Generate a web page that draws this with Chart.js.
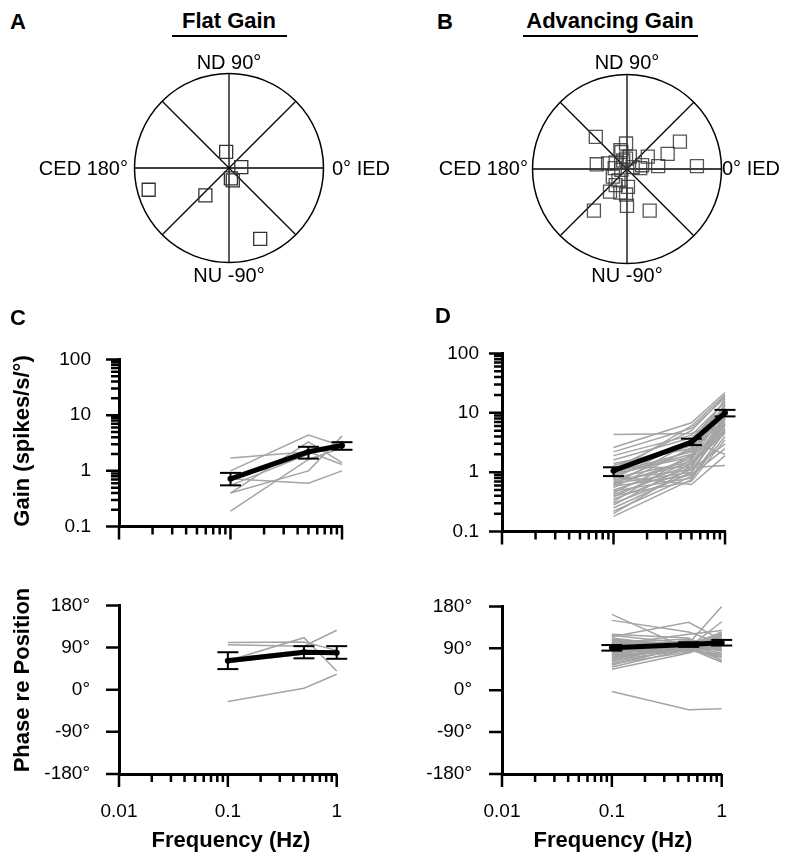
<!DOCTYPE html>
<html>
<head>
<meta charset="utf-8">
<script src="https://cdn.jsdelivr.net/npm/chart.js@4.4.1/dist/chart.umd.min.js"></script>
<style>
  html, body { margin: 0; padding: 0; background: #fff; }
  #fig { position: relative; width: 800px; height: 863px; overflow: hidden;
         font-family: 'Liberation Sans', Arial, sans-serif; color: #000; }
  #fig canvas { position: absolute; }
  .t { position: absolute; line-height: 1; white-space: nowrap; transform: translate(-50%, -50%); }
  .r { transform: translate(-100%, -50%); }
  .l { transform: translate(0, -50%); }
  .b { font-weight: bold; font-size: 22px; }
  .p { font-size: 20px; }
  .rot { transform: translate(-50%, -50%) rotate(-90deg); }
  .ul { position: absolute; height: 2px; background: #000; }
</style>
</head>
<body>
<div id="fig">
  <canvas id="polarA" width="210" height="210" style="left:124px;top:63px"></canvas>
  <canvas id="polarB" width="210" height="210" style="left:522px;top:64px"></canvas>
  <canvas id="gainC" width="360" height="230" style="left:0px;top:328px"></canvas>
  <canvas id="phaseC" width="360" height="290" style="left:0px;top:573px"></canvas>
  <canvas id="gainD" width="345" height="231" style="left:400px;top:327px"></canvas>
  <canvas id="phaseD" width="345" height="290" style="left:400px;top:573px"></canvas>

  <div class="t b" style="left:18px;top:22px">A</div>
  <div class="t b" style="left:445px;top:22px">B</div>
  <div class="t b" style="left:18px;top:318px">C</div>
  <div class="t b" style="left:443px;top:316px">D</div>

  <div class="t b" style="left:229px;top:21px">Flat Gain</div>
  <div class="ul" style="left:172px;top:35px;width:115px"></div>
  <div class="t b" style="left:610px;top:21px">Advancing Gain</div>
  <div class="ul" style="left:523px;top:35px;width:175px"></div>

  <div class="t p" style="left:229px;top:62px">ND 90°</div>
  <div class="t p" style="left:229px;top:275px">NU -90°</div>
  <div class="t p r" style="left:128px;top:168px">CED 180°</div>
  <div class="t p l" style="left:332px;top:168px">0° IED</div>

  <div class="t p" style="left:627px;top:62px">ND 90°</div>
  <div class="t p" style="left:627px;top:275px">NU -90°</div>
  <div class="t p r" style="left:528px;top:168px">CED 180°</div>
  <div class="t p l" style="left:722px;top:168px">0° IED</div>

  <div class="t b rot" style="left:22px;top:441px">Gain (spikes/s/°)</div>
  <div class="t b rot" style="left:22px;top:680px">Phase re Position</div>
  <div class="t b" style="left:231px;top:840px">Frequency (Hz)</div>
  <div class="t b" style="left:613px;top:840px">Frequency (Hz)</div>
</div>

<script>
// stimulus frequencies (Hz)
const FREQS = [0.1, 0.5, 1];

// A / B: response vectors, in units of the circle radius
const FLAT_X = [-0.03, 0.13, 0.04, 0.02, -0.85, -0.25, 0.33];
const FLAT_Y = [0.17, 0.01, -0.13, -0.11, -0.23, -0.29, -0.75];
const ADV_X = [-0.33, 0.56, 0.43, 0.74, 0.22, 0.33, 0.16, -0.32, -0.20, -0.01,
               -0.06, -0.04, -0.12, -0.01, -0.09, -0.12, -0.18, 0.01, -0.01, 0.0,
               -0.35, 0.24, -0.07, 0.06, -0.15, -0.06, 0.03, -0.07, 0.14, -0.13];
const ADV_Y = [0.34, 0.29, 0.16, 0.03, 0.13, 0.03, 0.04, 0.05, 0.06, 0.27,
               0.18, 0.09, 0.07, 0.11, -0.12, -0.17, -0.24, -0.19, -0.27, -0.39,
               -0.44, -0.44, -0.25, 0.02, -0.08, -0.01, 0.13, 0.20, 0.01, 0.01];
const SPOKE_ANGLES = [0, 45, 90, 135];

// C: flat gain cells, gain at 0.1 / 0.5 / 1 Hz
const FLAT_GAIN_CELLS = [
  [1.7, 2.2, 1.3],
  [1.0, 4.4, 2.8],
  [0.72, 0.6, 1.0],
  [0.4, 1.0, 4.2],
  [0.19, 1.6, 2.6],
  [0.4, 3.3, 1.4],
  [0.55, 2.0, 3.4]
];
const FLAT_GAIN_MEAN = [0.72, 2.2, 2.85];
const FLAT_GAIN_LO = [0.55, 1.66, 2.39];
const FLAT_GAIN_HI = [0.92, 2.7, 3.27];

const FLAT_PHASE_CELLS = [
  [101, 102, 84],
  [96, 93, 127],
  [-25, 3, 33],
  [62, 111, 40],
  [64, 80, 80],
  [58, 76, 76],
  [66, 84, 78]
];
const FLAT_PHASE_MEAN = [62, 80, 79];
const FLAT_PHASE_LO = [44, 67, 66];
const FLAT_PHASE_HI = [80, 93, 93];

// D: advancing gain cells
const ADV_GAIN_CELLS = [
  [4.3, 4.5, 7.5], [2.6, 6.8, 22], [2.2, 5.5, 18], [1.9, 4.2, 15], [1.6, 3.8, 12],
  [1.4, 2.5, 9], [1.3, 3.0, 13], [1.2, 1.2, 1.3], [1.1, 2.8, 10], [1.0, 2.2, 8],
  [1.0, 6.0, 20], [0.95, 1.8, 6], [0.9, 2.0, 11], [0.85, 0.62, 1.9], [0.8, 1.5, 5],
  [0.78, 3.5, 16], [0.75, 1.1, 3.0], [0.7, 2.4, 9.5], [0.68, 1.4, 4.5], [0.65, 1.0, 7],
  [0.6, 1.7, 14], [0.58, 0.9, 2.5], [0.55, 2.6, 17], [0.5, 1.3, 6.5], [0.48, 0.8, 4],
  [0.45, 1.9, 12], [0.42, 1.2, 8.5], [0.4, 0.7, 3.5], [0.38, 1.6, 10.5], [0.35, 1.1, 5.5],
  [0.32, 2.0, 11.5], [0.3, 0.95, 7.8], [0.28, 1.4, 9], [0.25, 1.0, 6.2], [0.22, 0.85, 4.8],
  [0.2, 1.2, 8], [0.18, 0.75, 5.2], [1.15, 5.0, 19], [0.88, 2.3, 13.5], [0.62, 3.2, 2.0]
];
const ADV_GAIN_MEAN = [1.06, 3.2, 10];
const ADV_GAIN_LO = [0.86, 2.86, 8.7];
const ADV_GAIN_HI = [1.21, 3.66, 11.2];

const ADV_PHASE_CELLS = [
  [163, 88, 118], [150, 125, 100], [-3, -42, -40], [118, 100, 180], [115, 146, 108],
  [112, 92, 147], [110, 95, 125], [108, 92, 120], [106, 100, 110], [104, 85, 115],
  [102, 110, 90], [100, 95, 105], [98, 102, 85], [96, 90, 100], [95, 105, 95],
  [93, 98, 112], [91, 88, 70], [90, 100, 95], [88, 95, 118], [87, 85, 90],
  [85, 108, 100], [83, 92, 80], [82, 100, 122], [80, 90, 102], [78, 96, 88],
  [76, 85, 75], [75, 104, 108], [73, 92, 65], [71, 88, 98], [69, 100, 92],
  [67, 94, 110], [65, 86, 78], [63, 98, 86], [60, 90, 60], [57, 82, 95],
  [54, 95, 84], [50, 88, 72], [45, 80, 105], [120, 112, 62], [98, 120, 128]
];
const ADV_PHASE_MEAN = [91, 98, 102];
const ADV_PHASE_LO = [85, 93, 96];
const ADV_PHASE_HI = [97, 103, 108];

// axis ticks
const FREQ_TICKS = [0.01, 0.02, 0.03, 0.04, 0.05, 0.06, 0.07, 0.08, 0.09,
                    0.1, 0.2, 0.3, 0.4, 0.5, 0.6, 0.7, 0.8, 0.9, 1];
const FREQ_MAJOR = [0.01, 0.1, 1];
const FREQ_LABELS = ['0.01', '0.1', '1'];
const GAIN_TICKS = [0.1, 0.2, 0.3, 0.4, 0.5, 0.6, 0.7, 0.8, 0.9,
                    1, 2, 3, 4, 5, 6, 7, 8, 9,
                    10, 20, 30, 40, 50, 60, 70, 80, 90, 100];
const GAIN_MAJOR = [0.1, 1, 10, 100];
const GAIN_LABELS = ['0.1', '1', '10', '100'];
const PHASE_TICKS = [-180, -90, 0, 90, 180];
const PHASE_LABELS = ['-180°', '-90°', '0°', '90°', '180°'];

const MEAN_COLOR = '#000';
const CELL_COLOR = '#a4a4a4';

Chart.defaults.font.family = "'Liberation Sans', Arial, sans-serif";
Chart.defaults.color = '#000';

function findIdx(list, v) {
  return list.findIndex(m => Math.abs(m - v) <= Math.abs(m) * 1e-6 + 1e-9);
}

// circle + spokes for the polar panels
const polarGrid = {
  id: 'polarGrid',
  beforeDatasetsDraw(chart) {
    const { ctx, scales: { x, y } } = chart;
    const cx = x.getPixelForValue(0), cy = y.getPixelForValue(0);
    const r = x.getPixelForValue(1) - cx;
    ctx.save();
    ctx.strokeStyle = '#000';
    ctx.lineWidth = 1.5;
    ctx.beginPath();
    ctx.arc(cx, cy, r, 0, Math.PI * 2);
    ctx.stroke();
    ctx.lineWidth = 1.3;
    SPOKE_ANGLES.forEach(a => {
      const rad = a * Math.PI / 180;
      ctx.beginPath();
      ctx.moveTo(cx - Math.cos(rad) * r, cy + Math.sin(rad) * r);
      ctx.lineTo(cx + Math.cos(rad) * r, cy - Math.sin(rad) * r);
      ctx.stroke();
    });
    ctx.restore();
  }
};

// outward tick marks, long ones on labelled ticks
const tickMarks = {
  id: 'tickMarks',
  afterDraw(chart, args, o) {
    const { ctx, scales: { x, y } } = chart;
    ctx.save();
    ctx.strokeStyle = '#000';
    ctx.lineWidth = 2.5;
    ctx.beginPath();
    x.ticks.forEach(t => {
      const px = x.getPixelForValue(t.value);
      const len = findIdx(o.xMajor, t.value) >= 0 ? 13 : 8;
      ctx.moveTo(px, x.top);
      ctx.lineTo(px, x.top + len);
    });
    y.ticks.forEach(t => {
      const py = y.getPixelForValue(t.value);
      const len = findIdx(o.yMajor, t.value) >= 0 ? 13 : 8;
      ctx.moveTo(y.right, py);
      ctx.lineTo(y.right - len, py);
    });
    ctx.stroke();
    ctx.restore();
  }
};

function polarChart(id, xs, ys, color) {
  new Chart(document.getElementById(id), {
    type: 'scatter',
    data: {
      datasets: [{
        data: xs.map((v, i) => ({ x: v, y: ys[i] })),
        pointStyle: 'rect',
        pointRadius: 9.2,
        pointBackgroundColor: 'rgba(0,0,0,0)',
        pointBorderColor: color,
        pointBorderWidth: 1.3,
        clip: false
      }]
    },
    options: {
      responsive: false,
      animation: false,
      devicePixelRatio: 1,
      layout: { padding: 10 },
      plugins: { legend: { display: false }, tooltip: { enabled: false } },
      scales: {
        x: { type: 'linear', min: -1, max: 1, display: false },
        y: { type: 'linear', min: -1, max: 1, display: false }
      }
    },
    plugins: [polarGrid]
  });
}

function freqChart(id, c) {
  const datasets = [];
  datasets.push({
    data: FREQS.map((f, i) => ({ x: f, y: c.mean[i] })),
    borderColor: MEAN_COLOR,
    borderWidth: 5,
    pointRadius: 3,
    pointBackgroundColor: MEAN_COLOR,
    pointBorderWidth: 0,
    clip: false
  });
  const bars = [];
  FREQS.forEach((f, i) => {
    bars.push({ x: f, y: c.lo[i] }, { x: f, y: c.hi[i] }, { x: f, y: null });
  });
  datasets.push({
    data: bars,
    borderColor: MEAN_COLOR,
    borderWidth: 2,
    pointStyle: 'line',
    pointRadius: 10.5,
    pointBorderWidth: 2,
    pointBorderColor: MEAN_COLOR,
    spanGaps: false,
    clip: false
  });
  c.cells.forEach(cell => datasets.push({
    data: FREQS.map((f, i) => ({ x: f, y: cell[i] })),
    borderColor: CELL_COLOR,
    borderWidth: 1.5,
    pointRadius: 0,
    clip: false
  }));

  const yLog = c.yType === 'logarithmic';
  new Chart(document.getElementById(id), {
    type: 'line',
    data: { datasets },
    options: {
      responsive: false,
      animation: false,
      devicePixelRatio: 1,
      layout: { padding: { top: 10, right: c.padRight, bottom: 0, left: 0 } },
      plugins: {
        legend: { display: false },
        tooltip: { enabled: false },
        tickMarks: { xMajor: FREQ_MAJOR, yMajor: yLog ? GAIN_MAJOR : PHASE_TICKS }
      },
      scales: {
        x: {
          type: 'logarithmic',
          min: 0.01, max: 1,
          grid: { display: false },
          border: { display: true, color: '#000', width: 3 },
          afterBuildTicks: s => { s.ticks = FREQ_TICKS.map(v => ({ value: v })); },
          afterFit: s => { s.height = c.xH; },
          ticks: {
            display: c.showX,
            autoSkip: false,
            maxRotation: 0,
            padding: 18,
            font: { size: 19 },
            callback: v => { const k = findIdx(FREQ_MAJOR, v); return k >= 0 ? FREQ_LABELS[k] : ''; }
          }
        },
        y: {
          type: c.yType,
          min: yLog ? 0.1 : -180,
          max: yLog ? 100 : 180,
          grid: { display: false },
          border: { display: true, color: '#000', width: 3 },
          afterBuildTicks: s => { s.ticks = (yLog ? GAIN_TICKS : PHASE_TICKS).map(v => ({ value: v })); },
          afterFit: s => { s.width = c.yW; },
          ticks: {
            autoSkip: false,
            padding: c.yPad,
            font: { size: 19 },
            callback: v => {
              if (yLog) { const k = findIdx(GAIN_MAJOR, v); return k >= 0 ? GAIN_LABELS[k] : ''; }
              const k = findIdx(PHASE_TICKS, v);
              return k >= 0 ? PHASE_LABELS[k] : '';
            }
          }
        }
      }
    },
    plugins: [tickMarks]
  });
}

polarChart('polarA', FLAT_X, FLAT_Y, '#333');
polarChart('polarB', ADV_X, ADV_Y, 'rgba(55,55,55,0.85)');

freqChart('gainC', { cells: FLAT_GAIN_CELLS, mean: FLAT_GAIN_MEAN, lo: FLAT_GAIN_LO, hi: FLAT_GAIN_HI,
  yType: 'logarithmic', yW: 119, xH: 15, padRight: 18, yPad: 20, showX: false });
freqChart('phaseC', { cells: FLAT_PHASE_CELLS, mean: FLAT_PHASE_MEAN, lo: FLAT_PHASE_LO, hi: FLAT_PHASE_HI,
  yType: 'linear', yW: 119, xH: 89, padRight: 18, yPad: 21, showX: true });
freqChart('gainD', { cells: ADV_GAIN_CELLS, mean: ADV_GAIN_MEAN, lo: ADV_GAIN_LO, hi: ADV_GAIN_HI,
  yType: 'logarithmic', yW: 102, xH: 15, padRight: 20, yPad: 15, showX: false });
freqChart('phaseD', { cells: ADV_PHASE_CELLS, mean: ADV_PHASE_MEAN, lo: ADV_PHASE_LO, hi: ADV_PHASE_HI,
  yType: 'linear', yW: 102, xH: 89, padRight: 20, yPad: 22, showX: true });
</script>
</body>
</html>
